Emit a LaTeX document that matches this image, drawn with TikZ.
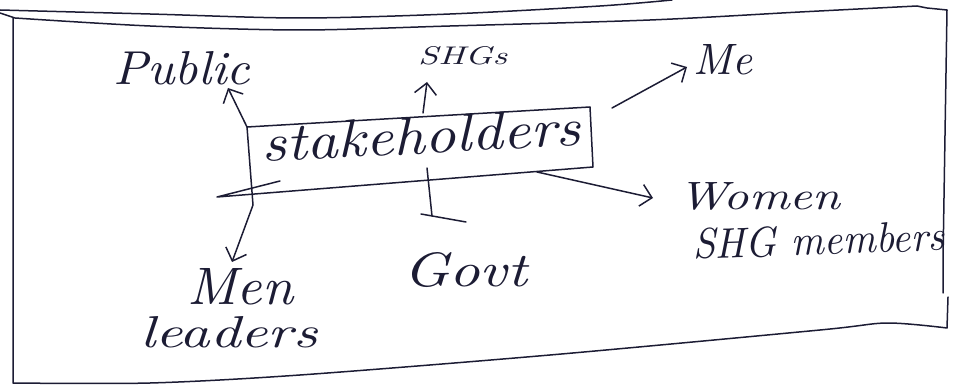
\documentclass[tikz,border=0pt]{standalone}
\usepackage{graphicx}
\usetikzlibrary{arrows.meta}
\definecolor{ink}{RGB}{28,28,52}
% a word stretched to a given width and height above its baseline
\newcommand{\fitword}[3]{\resizebox{#1}{#2}{\itshape #3}}

\begin{document}
\begin{tikzpicture}[x=1pt,y=-1pt,
  inkline/.style={draw=ink, line width=1.5pt, line cap=round, line join=round},
  arr/.style={inkline, -{Straight Barb[length=11pt,width=22pt,line width=1.5pt]}},
  word/.style={inner sep=0pt, anchor=base west, text=ink}]
\useasboundingbox (0,0) rectangle (953,387);

% sheet outline
\draw[inkline] plot[smooth] coordinates {(0,10) (150,14) (300,18) (450,14) (600,6) (672,0)};
\draw[inkline] (0,13) -- (15,18)
  -- plot[smooth] coordinates {(15,18) (150,26) (300,30) (450,26) (650,20) (800,12) (917,6)}
  -- (927,8) -- (947,10) -- (943,260) -- (943,293);
\draw[inkline] (948,297) -- (947,328)
  -- plot[smooth] coordinates {(947,328) (887,323) (820,330) (550,355) (300,375) (150,383) (13,383)}
  -- (13,18);

% labels
\node[word] (public) at (113,85) {\fitword{137pt}{33pt}{Public}};
\node[word] (shgs) at (418,65) {\fitword{89pt}{18pt}{SHGs}};
\node[word] (me) at (693,75) {\fitword{59pt}{30pt}{Me}};
\node[word, rotate=3] (stake) at (262,162) {\fitword{320pt}{37pt}{stakeholders}};
\node[word] (women) at (678,210) {\fitword{162pt}{27pt}{Women}};
\node[word, rotate=2] (shgm) at (693,259) {\fitword{252pt}{30pt}{SHG members}};
\node[word] (govt) at (403,287) {\fitword{124pt}{34pt}{Govt}};
\node[word] (men) at (187,305) {\fitword{106pt}{36pt}{Men}};
\node[word] (leaders) at (140,348) {\fitword{177pt}{31pt}{leaders}};

% box round the central word
\coordinate (btl) at (247,127);
\coordinate (btr) at (590,107);
\coordinate (bbr) at (593,167);
\coordinate (bbl) at (217,197);
\coordinate (bkick) at (280,181);
\draw[inkline] (btl) -- (btr) -- (bbr) -- (bbl) -- (bkick);

% connector ends
\coordinate (pubtip) at (228,88);
\coordinate (shgtail) at (423,113);
\coordinate (shgtip) at (427,82);
\coordinate (metail) at (612,108);
\coordinate (metip) at (687,67);
\coordinate (womtail) at (537,172);
\coordinate (womtip) at (653,198);
\coordinate (govtail) at (427,168);
\coordinate (govtip) at (432,216);
\coordinate (menbend) at (253,205);
\coordinate (mentip) at (232,262);

% connectors
\draw[arr] (btl) -- (pubtip);
\draw[arr] (shgtail) -- (shgtip);
\draw[arr] (metail) -- (metip);
\draw[arr] (womtail) -- (womtip);
\draw[arr] (btl) -- (menbend) -- (mentip);
\draw[inkline] (govtail) -- (govtip);
\draw[inkline] ([xshift=-11pt,yshift=2pt]govtip) -- ([xshift=34pt,yshift=-6pt]govtip);
\end{tikzpicture}
\end{document}
